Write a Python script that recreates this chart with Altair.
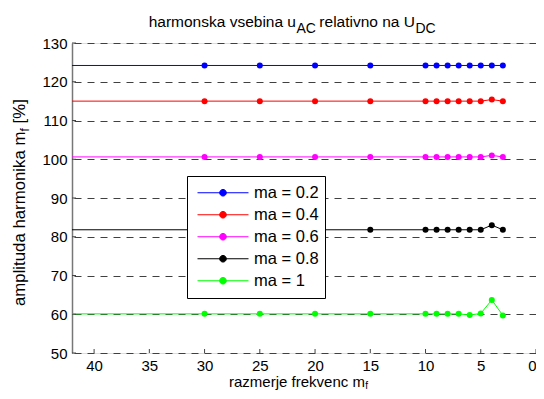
import altair as alt
import pandas as pd

# ---------------- data ----------------
mf_values = [45, 30, 25, 20, 15, 10, 9, 8, 7, 6, 5, 4, 3]
amp_ma02 = [124.2, 124.2, 124.2, 124.2, 124.2, 124.2, 124.2, 124.2, 124.2, 124.2, 124.2, 124.2, 124.2]
amp_ma04 = [115.0, 115.0, 115.0, 115.0, 115.0, 115.0, 115.0, 115.0, 115.0, 115.0, 115.0, 115.4, 115.0]
amp_ma06 = [100.6, 100.6, 100.6, 100.6, 100.6, 100.6, 100.6, 100.6, 100.6, 100.6, 100.6, 101.0, 100.6]
amp_ma08 = [81.8, 81.8, 81.8, 81.8, 81.8, 81.8, 81.8, 81.8, 81.8, 81.8, 81.8, 83.0, 81.8]
amp_ma10 = [60.1, 60.1, 60.1, 60.1, 60.1, 60.1, 60.1, 60.1, 60.1, 59.8, 60.2, 63.7, 59.7]
series_labels = ["ma = 0.2", "ma = 0.4", "ma = 0.6", "ma = 0.8", "ma = 1"]
series_colors = ["#0000ff", "#ff0000", "#ff00ff", "#000000", "#00ff00"]
x_ticks = [0, 5, 10, 15, 20, 25, 30, 35, 40]
y_ticks = [50, 60, 70, 80, 90, 100, 110, 120, 130]

title_main = "harmonska vsebina u"
title_sub1 = "AC"
title_mid = "relativno na U"
title_sub2 = "DC"
xtitle_main = "razmerje frekvenc m"
xtitle_sub = "f"
ytitle_main = "amplituda harmonika m"
ytitle_sub = "f"
ytitle_end = "[%]"

rows = []
for lab, vals in zip(series_labels, [amp_ma02, amp_ma04, amp_ma06, amp_ma08, amp_ma10]):
    for m, a in zip(mf_values, vals):
        rows.append({"series": lab, "mf": m, "amp": a})
df = pd.DataFrame(rows)

W, H = 464, 310
FONT = "Liberation Sans"

x_scale = alt.Scale(domain=[0, 42], reverse=True, nice=False, zero=False)
y_scale = alt.Scale(domain=[50, 130], nice=False, zero=False)
x_axis = alt.Axis(values=x_ticks, ticks=False, tickSize=0, domain=False, grid=False,
                  labelPadding=5, labelFontSize=15, labelColor="#000", labelFlush=True, title=None)
y_axis = alt.Axis(values=y_ticks, ticks=False, tickSize=0, domain=True, domainColor="#777",
                  domainWidth=1.5, grid=True, gridColor="#404040", gridDash=[7, 6], gridWidth=1,
                  labelPadding=5, labelFontSize=15, labelColor="#000", title=None)

sym_path = "M-1,0L1,0M0.13,0A0.13,0.13,0,1,1,-0.13,0A0.13,0.13,0,1,1,0.13,0Z"
color_enc = alt.Color(
    "series:N",
    scale=alt.Scale(domain=series_labels, range=series_colors),
    sort=series_labels,
    legend=alt.Legend(
        orient="none", legendX=115, legendY=133, title=None,
        symbolType=sym_path, symbolSize=2601, symbolStrokeWidth=1,
        labelFontSize=16.5, labelFont=FONT, labelColor="#000", clipHeight=21.5,
        padding=6, symbolOffset=4, labelOffset=5, rowPadding=0,
        strokeColor="#000", fillColor="#fff", cornerRadius=0,
    ),
)

base = alt.Chart(df)
lines = base.mark_line(strokeWidth=1, clip=True).encode(
    x=alt.X("mf:Q", scale=x_scale, axis=x_axis),
    y=alt.Y("amp:Q", scale=y_scale, axis=y_axis),
    color=color_enc,
    detail="series:N",
)
points = base.transform_filter("datum.mf <= 42").mark_circle(size=36, opacity=1, clip=True).encode(
    x=alt.X("mf:Q", scale=x_scale, axis=x_axis),
    y=alt.Y("amp:Q", scale=y_scale, axis=y_axis),
    color=color_enc,
)

xt = alt.Chart(pd.DataFrame({"mf": x_ticks})).mark_rule(color="#444", strokeWidth=1).encode(
    x=alt.X("mf:Q", scale=x_scale, axis=x_axis), y=alt.value(H), y2=alt.value(H - 4))
yt = alt.Chart(pd.DataFrame({"amp": y_ticks})).mark_rule(color="#444", strokeWidth=1).encode(
    y=alt.Y("amp:Q", scale=y_scale, axis=y_axis), x=alt.value(0), x2=alt.value(4))


def txt(s, x, y, size=15, align="left", angle=0):
    return alt.Chart(pd.DataFrame({"t": [s]})).mark_text(
        align=align, baseline="alphabetic", fontSize=size, font=FONT, color="#000", angle=angle
    ).encode(text="t:N", x=alt.value(x), y=alt.value(y))


texts = [
    txt(title_main, 224, -16.3, size=15.5, align="right"),
    txt(title_sub1, 224.5, -10.3, size=14),
    txt(title_mid, 343, -16.3, size=15.5, align="right"),
    txt(title_sub2, 343.5, -10.3, size=14),
    txt(xtitle_main, 292.9, 344, size=15, align="right"),
    txt(xtitle_sub, 293.3, 345.8, size=10),
    txt(ytitle_main, -47.5, 263, size=16.8, angle=270),
    txt(ytitle_sub, -43, 88.4, size=12, angle=270),
    txt(ytitle_end, -47.5, 80.4, size=16.8, angle=270),
]

chart = alt.layer(lines, points, xt, yt, *texts).properties(
    width=W, height=H,
    padding={"left": 64, "top": 35, "right": 0, "bottom": 38},
    autosize=alt.AutoSizeParams(type="none"),
).configure_view(stroke=None).configure(font=FONT, background="#fff")

chart.save("out.html", embed_options={"renderer": "svg", "actions": False})
